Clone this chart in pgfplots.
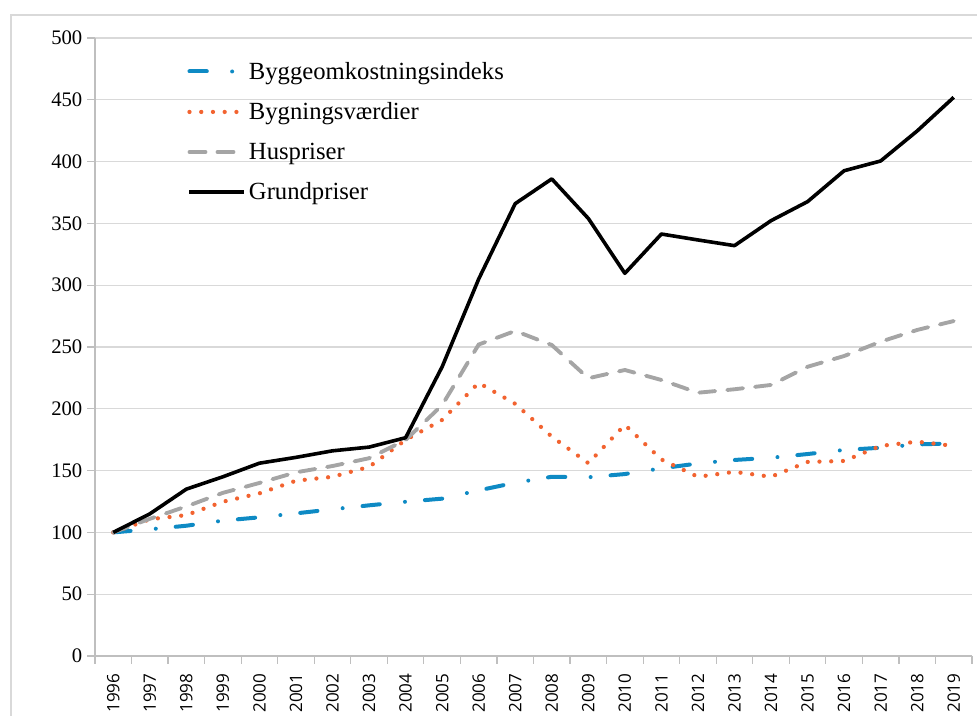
\documentclass[border=0pt]{standalone}
\usepackage{pgfplots}
\pgfplotsset{compat=1.18}
\usepackage{fontspec}
\setmainfont{Liberation Serif}
\newfontfamily\tickfont{Open Sans}
\definecolor{cblue}{RGB}{14,138,196}
\definecolor{corange}{RGB}{242,99,48}
\definecolor{cgray}{RGB}{165,165,165}
\definecolor{cgrid}{RGB}{217,217,217}
\definecolor{caxis}{RGB}{191,191,191}
\begin{document}
\begin{tikzpicture}
\useasboundingbox (0,0) rectangle (732.75pt,537pt);
\draw[cgrid,line width=1.2pt] (8.25pt,-20pt) -- (8.25pt,525.75pt) -- (760pt,525.75pt);
\begin{axis}[
  at={(71.25pt,45pt)}, anchor=south west,
  scale only axis, width=657.75pt, height=463.5pt,
  xmin=-0.5, xmax=23.5, ymin=0, ymax=500,
  ytick={0,50,...,500},
  xtick={0,...,23},
  xticklabels={1996,1997,1998,1999,2000,2001,2002,2003,2004,2005,2006,2007,2008,2009,2010,2011,2012,2013,2014,2015,2016,2017,2018,2019},
  minor xtick={-0.5,0.5,...,23.5},
  major x tick style={draw=none},
  minor x tick style={caxis,line width=0.9pt},
  minor tick length=6pt,
  y tick style={caxis,line width=0.9pt},
  major tick length=6pt,
  tick align=outside,
  axis x line*=bottom, axis y line*=left,
  axis line style={caxis,line width=1pt},
  ymajorgrids, grid style={cgrid,line width=1pt},
  xticklabel style={rotate=90,anchor=east,font=\tickfont\fontsize{12.8}{14}\selectfont,inner sep=1pt,xshift=-6pt},
  yticklabel style={font=\fontsize{15.5}{17}\selectfont},
  /pgf/number format/assume math mode=true,
  clip=false,
  legend style={draw=none,fill=none,at={(axis description cs:0.105,0.966)},anchor=north west,
    font=\fontsize{18.5}{21}\selectfont,row sep=12pt,inner sep=0pt},
  legend cell align=left,
  legend image code/.code={\draw[#1] (0pt,0pt) -- (41pt,0pt);},
]
\addplot[cblue,line width=3pt,line cap=round,dash pattern=on 13pt off 19pt on 0pt off 15pt] coordinates {
(0,100) (1,102.5) (2,105.4) (3,109.5) (4,112.2) (5,115.4) (6,118.7) (7,121.9) (8,124.8) (9,127.3) (10,134) (11,140.2) (12,145) (13,144.6) (14,147.2) (15,151.8) (16,155.8) (17,158.6) (18,160.4) (19,163.4) (20,166.7) (21,168.5) (22,171.2) (23,172)};
\addlegendentry{Byggeomkostningsindeks}
\addplot[corange,line width=3.2pt,line cap=round,dash pattern=on 0pt off 8.8pt] coordinates {
(0,100) (1,110.6) (2,114) (3,124.8) (4,131.6) (5,141.8) (6,145) (7,153) (8,174.8) (9,191) (10,221) (11,204) (12,177.5) (13,156) (14,187) (15,159) (16,145) (17,149) (18,145) (19,157) (20,157.8) (21,170) (22,173.4) (23,170)};
\addlegendentry{Bygningsværdier}
\addplot[cgray,line width=2.9pt,line cap=round,dash pattern=on 12pt off 9pt] coordinates {
(0,100) (1,111) (2,121) (3,132) (4,140) (5,148.6) (6,153.7) (7,160) (8,174.8) (9,203) (10,252) (11,263) (12,251.6) (13,224.7) (14,231.4) (15,223.3) (16,213) (17,215.8) (18,219.3) (19,234) (20,242.7) (21,254.3) (22,263.8) (23,271)};
\addlegendentry{Huspriser}
\addplot[black,line width=2.7pt,line join=round] coordinates {
(0,100) (1,115) (2,135) (3,145) (4,156) (5,160.7) (6,166) (7,169) (8,176.6) (9,234) (10,305) (11,366) (12,386) (13,354) (14,309.6) (15,341.4) (16,336.6) (17,332) (18,352.2) (19,367.6) (20,392.6) (21,400.5) (22,424.8) (23,452)};
\addlegendentry{Grundpriser}
\end{axis}
\end{tikzpicture}
\end{document}
